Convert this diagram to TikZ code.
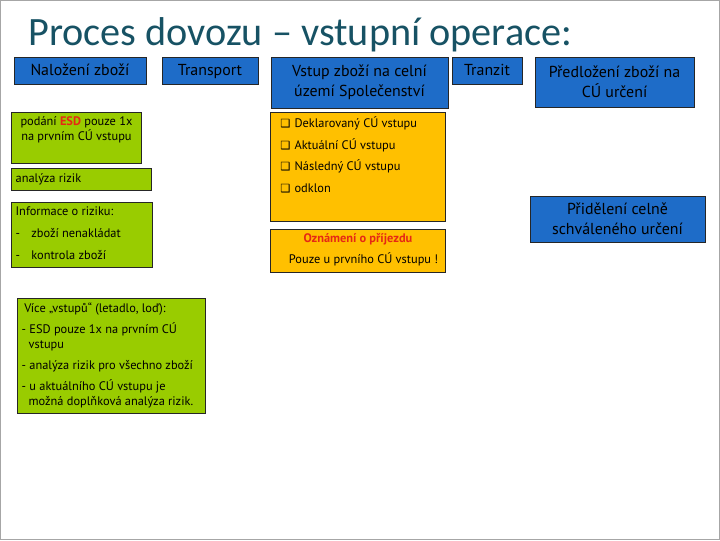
\documentclass[tikz,border=0pt]{standalone}
\usepackage{fontspec}
\setmainfont{PT Sans}
\newfontfamily\titlefont{Carlito}
\newfontfamily\symfont{DejaVu Sans}
\definecolor{titleteal}{RGB}{23,82,100}
\definecolor{slideblue}{RGB}{30,108,200}
\definecolor{slidegreen}{RGB}{153,204,0}
\definecolor{slideorange}{RGB}{255,192,0}
\definecolor{esdred}{RGB}{230,40,20}
\newcommand{\slidetext}[3]{\parbox[c][#2][t]{#1}{#3}}
\newcommand{\chk}{{\symfont\bfseries\fontsize{8}{9}\selectfont ❑}\hspace{3pt}}

\begin{document}
\begin{tikzpicture}
  [x=0.025cm,y=-0.025cm,
   box/.style={draw=black!85,line width=0.6pt},
   bluebox/.style={box,fill=slideblue,align=center,inner sep=1pt,
     font=\fontsize{11.3}{14}\selectfont},
   onerow/.style={box,fill=slideblue,inner sep=1pt,text height=8pt,text depth=0.5pt,
     font=\fontsize{11.3}{14}\selectfont},
   greenbox/.style={box,fill=slidegreen,anchor=north west,inner sep=3pt,
     font=\fontsize{8.8}{10.6}\selectfont},
   orangebox/.style={box,fill=slideorange,anchor=north west,inner sep=3pt,
     font=\fontsize{8.8}{10.6}\selectfont}]
  \useasboundingbox (0,0) rectangle (720,540);
  \draw[gray!70,line width=1pt] (0.6,0.6) rectangle (719.4,539.4);

  % title
  \node (title) [anchor=base west,inner sep=0pt,text=titleteal,
    font=\titlefont\fontsize{28.6}{32}\selectfont] at (28,45)
    {Proces dovozu – vstupní operace:};

  % top row
  \node (nalozeni) [onerow,minimum width=3.3cm,minimum height=0.675cm]
    at (80,70.5) {Naložení zboží};
  \node (transport) [onerow,minimum width=2.4cm,minimum height=0.675cm]
    at (210,70.5) {Transport};
  \node (vstup) [bluebox,minimum width=4.425cm,minimum height=1.275cm]
    at (359.5,82.5) {Vstup zboží na celní\\území Společenství};
  \node (tranzit) [onerow,minimum width=1.75cm,minimum height=0.675cm]
    at (487,70.5) {Tranzit};
  \node (predlozeni) [bluebox,minimum width=3.975cm,minimum height=1.25cm]
    at (614.5,82) {Předložení zboží na\\CÚ určení};
  \node (prideleni) [bluebox,minimum width=4.375cm,minimum height=1.15cm]
    at (617.5,219) {Přidělení celně\\schváleného určení};

  % green boxes
  \node (podani) [greenbox] at (11,112)
    {\slidetext{3.04cm}{1.06cm}{\centering podání {\bfseries\color{esdred}ESD} pouze 1x\\na prvním CÚ vstupu\par}};
  \node (analyza) [greenbox] at (11,168)
    {\parbox[c][0.34cm][c]{3.29cm}{analýza rizik}};
  \node (informace) [greenbox] at (11,202)
    {\slidetext{3.31cm}{1.41cm}{\baselineskip=15.6pt
      Informace o riziku:\\
      -\hspace{8pt}zboží nenakládat\\
      -\hspace{8pt}kontrola zboží}};
  \node (vice) [greenbox] at (17,298)
    {\slidetext{4.49cm}{2.66cm}{\hspace*{2pt}Více „vstupů“ (letadlo, loď):\\[4.5pt]
      - ESD pouze 1x na prvním CÚ\\
      \hspace*{5pt}vstupu\\[4.5pt]
      - analýza rizik pro všechno zboží\\[4.5pt]
      - u aktuálního CÚ vstupu je\\
      \hspace*{5pt}možná doplňková analýza rizik.}};

  % orange boxes
  \node (urady) [orangebox] at (270,112)
    {\slidetext{4.165cm}{2.515cm}{\baselineskip=15.4pt
      \hspace*{4pt}\chk Deklarovaný CÚ vstupu\\
      \hspace*{4pt}\chk Aktuální CÚ vstupu\\
      \hspace*{4pt}\chk Následný CÚ vstupu\\
      \hspace*{4pt}\chk odklon}};
  \node (oznameni) [orangebox] at (270,229)
    {\slidetext{4.165cm}{0.865cm}{\centering\baselineskip=14.8pt
      {\bfseries\color{esdred}Oznámení o příjezdu}\\
      \hspace*{8pt}Pouze u prvního CÚ vstupu !\par}};
\end{tikzpicture}
\end{document}
